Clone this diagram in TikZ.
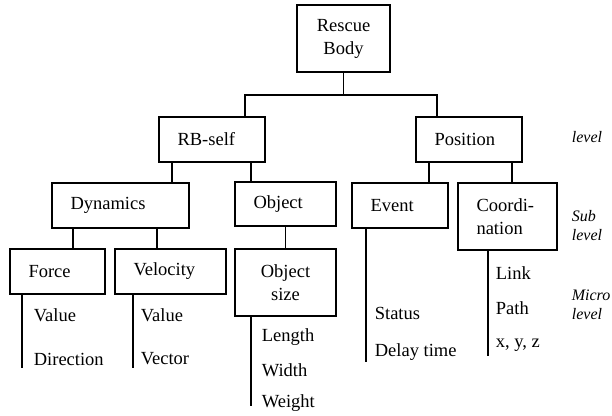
\documentclass[tikz,border=0pt]{standalone}
\usepackage{fontspec}
\setmainfont{Liberation Serif}
\tikzset{
  kasten/.style={draw, inner xsep=18.5pt, inner ysep=0pt, align=left},
  blatt/.style={anchor=west, inner sep=0pt},
  ebene/.style={anchor=west, inner sep=0pt, align=left, font=\fontsize{16}{19}\selectfont\itshape},
}
\begin{document}
\begin{tikzpicture}[x=1pt,y=-1pt,line width=1.7pt,font=\fontsize{18.5}{23}\selectfont]
        \useasboundingbox (0,0) rectangle (612,415);
        % Kästen
        \node[kasten,align=center,text width=56pt,minimum height=67pt] (rescue) at (343.5,38.5) {Rescue\\Body};
        \node[kasten,text width=69pt,minimum height=45pt] (rbself) at (212,139.5) {RB-self};
        \node[kasten,text width=69pt,minimum height=45pt] (position) at (469,139.5) {Position};
        \node[kasten,text width=100pt,minimum height=45pt] (dynamics) at (120.5,205.5) {Dynamics};
        \node[kasten,text width=64pt,minimum height=44pt] (object) at (285.5,204) {Object};
        \node[kasten,text width=59pt,minimum height=45pt] (event) at (400,205.5) {Event};
        \node[kasten,text width=62pt,minimum height=67pt] (coord) at (507.5,216.5) {Coordi-\\nation};
        \node[kasten,text width=58pt,minimum height=45pt] (force) at (57.5,271.5) {Force};
        \node[kasten,text width=74pt,minimum height=45pt] (velocity) at (170.5,271.5) {Velocity};
        \node[kasten,align=center,text width=64pt,minimum height=67pt] (objsize) at (285.5,282.5) {Object\\size};
        % Verbindungen
        \draw (rescue.south) -- ++(0,22) coordinate (bus);
        \draw ([xshift=33pt]rbself.north) |- (bus) -| ([xshift=-32pt]position.north);
        \foreach \a/\b/\dx in {rbself/dynamics/-40, rbself/object/39,
                               position/event/-40, position/coord/43,
                               dynamics/force/-47.5, dynamics/velocity/36.5,
                               object/objsize/0}{
            \draw ([xshift=\dx pt]\a.south) coordinate (tap) -- (tap |- \b.north);
        }
        % Blätter
        \foreach \k/\dx/\len in {force/-35.5/73, velocity/-37.5/73, objsize/-34.5/89,
                                 event/-34/133, coord/-19.5/105}{
            \draw ([xshift=\dx pt]\k.south) -- ++(0,\len) coordinate (\k end);
        }
        \foreach \n/\x/\y/\t in {fv1/33/315/Value, fv2/33/359/Direction,
                                 vv1/140/315/Value, vv2/140/359/Vector,
                                 ol/261/337/Length, ow/261/370/Width, og/261/403/Weight,
                                 es/374/313/Status, ed/374/352/Delay time,
                                 cl/495/273/Link, cp/495/308/Path, cx/495/345/{x, y, z}}{
            \node[blatt] (\n) at (\x,\y) {\t};
        }
        % Ebenen
        \node[ebene] (lv1) at (571,137) {level};
        \node[ebene] (lv2) at (571,225.5) {Sub\\level};
        \node[ebene] (lv3) at (571,304.5) {Micro\\level};
    \end{tikzpicture}
\end{document}
